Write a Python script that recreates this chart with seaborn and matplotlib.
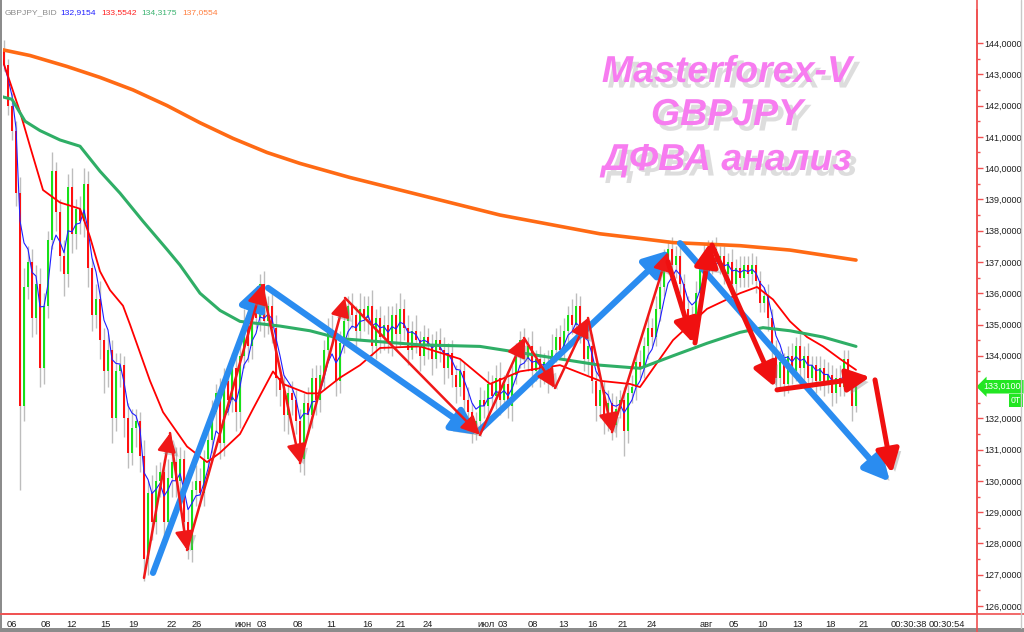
import numpy as np
import pandas as pd
import matplotlib
matplotlib.use("Agg")
import matplotlib.pyplot as plt
import matplotlib.patheffects as pe
import matplotlib.transforms as mtransforms
from matplotlib.lines import Line2D
from matplotlib.patches import Rectangle
import seaborn as sns

# -- Candles (one value per bar) -----------------------------------------------
first_open = 143.8
closes = [
    143.3, 142.0, 141.2, 139.2, 132.4, 136.2, 137.0, 135.2, 136.3, 133.6,
    135.6, 137.7, 139.9, 138.6, 137.2, 136.6, 139.4, 137.9, 138.7, 138.3,
    139.5, 136.8, 135.3, 135.8, 134.5, 133.5, 134.2, 132.0, 133.5, 133.7,
    132.0, 130.9, 131.7, 131.9, 130.8, 127.5, 129.6, 128.7, 130.0, 130.3,
    128.7, 130.1, 130.6, 130.0, 130.7, 128.7, 127.8, 129.7, 130.0, 129.6,
    130.7, 131.3, 132.2, 132.8, 131.2, 133.2, 132.6, 133.6, 132.2, 134.0,
    135.1, 134.3, 135.6, 135.2, 136.3, 135.1, 135.6, 134.9, 133.3, 132.9,
    132.1, 132.8, 132.6, 131.9, 130.7, 132.5, 132.1, 133.3, 132.6, 133.4,
    134.2, 134.8, 134.6, 133.2, 134.4, 135.1, 135.6, 135.3, 134.8, 135.5,
    135.2, 135.6, 134.3, 135.2, 134.6, 135.0, 134.4, 135.3, 134.7, 135.5,
    134.9, 134.2, 134.8, 134.5, 134.0, 134.6, 134.3, 133.9, 134.5, 134.2,
    133.6, 134.1, 133.4, 133.0, 133.5, 132.6, 132.2, 131.7, 131.9, 132.6,
    132.4, 133.1, 132.7, 133.3, 132.6, 133.1, 132.4, 133.4, 134.0, 134.5,
    133.9, 134.3, 133.5, 133.9, 133.4, 133.8, 133.3, 134.2, 134.6, 134.2,
    134.8, 135.3, 135.0, 135.6, 134.7, 133.9, 134.3, 133.2, 132.4, 132.9,
    132.0, 132.5, 131.8, 132.3, 132.6, 131.6, 132.8, 133.0, 133.8, 133.6,
    134.3, 134.9, 134.6, 135.5, 136.2, 137.0, 137.4, 136.9, 137.2, 136.3,
    135.5, 134.9, 135.3, 136.0, 136.8, 137.3, 136.9, 137.4, 137.0, 137.2,
    136.6, 137.0, 136.3, 136.8, 136.5, 136.9, 136.6, 136.9, 136.4, 135.7,
    135.9, 135.2, 134.2, 133.3, 133.8, 133.1, 134.0, 133.5, 134.3, 133.6,
    134.0, 133.3, 133.7, 133.2, 133.6, 133.1, 133.4, 132.8, 133.3, 133.0,
    133.9, 133.2, 132.4, 133.01,
]
wick_up = [
    0.3, 0.2, 0.4, 0.3, 0.5, 0.6, 0.5, 0.4, 0.6, 0.5,
    0.4, 0.3, 0.6, 0.3, 0.4, 0.5, 0.4, 0.6, 0.3, 0.4,
    0.5, 0.4, 0.3, 0.5, 0.6, 0.4, 0.5, 0.3, 0.6, 0.4,
    0.3, 0.5, 0.6, 0.4, 0.3, 0.5, 0.4, 0.6, 0.5, 0.3,
    0.4, 0.6, 0.3, 0.5, 0.4, 0.3, 0.4, 0.3, 0.5, 0.4,
    0.3, 0.5, 0.4, 0.3, 0.5, 0.4, 0.3, 0.5, 0.4, 0.3,
    0.4, 0.3, 0.3, 0.5, 0.3, 0.4, 0.3, 0.5, 0.4, 0.3,
    0.5, 0.3, 0.4, 0.3, 0.4, 0.3, 0.5, 0.3, 0.4, 0.3,
    0.3, 0.4, 0.5, 0.3, 0.4, 0.5, 0.3, 0.4, 0.3, 0.5,
    0.4, 0.3, 0.5, 0.3, 0.4, 0.3, 0.6, 0.3, 0.4, 0.5,
    0.3, 0.4, 0.3, 0.5, 0.3, 0.4, 0.3, 0.4, 0.3, 0.4,
    0.4, 0.3, 0.4, 0.3, 0.4, 0.3, 0.4, 0.3, 0.3, 0.4,
    0.3, 0.4, 0.3, 0.4, 0.5, 0.3, 0.4, 0.3, 0.4, 0.3,
    0.4, 0.3, 0.5, 0.3, 0.4, 0.3, 0.4, 0.5, 0.3, 0.4,
    0.4, 0.3, 0.5, 0.4, 0.3, 0.4, 0.3, 0.4, 0.3, 0.4,
    0.3, 0.4, 0.3, 0.4, 0.3, 0.4, 0.3, 0.4, 0.3, 0.4,
    0.3, 0.4, 0.3, 0.4, 0.3, 0.4, 0.3, 0.4, 0.3, 0.4,
    0.3, 0.4, 0.3, 0.4, 0.3, 0.3, 0.4, 0.3, 0.4, 0.3,
    0.3, 0.3, 0.4, 0.3, 0.4, 0.3, 0.3, 0.4, 0.3, 0.3,
    0.3, 0.4, 0.3, 0.3, 0.4, 0.3, 0.3, 0.4, 0.3, 0.4,
    0.3, 0.4, 0.3, 0.3, 0.4, 0.3, 0.4, 0.3, 0.3, 0.4,
    0.3, 0.3, 0.3, 0.2,
]
wick_dn = [
    0.2, 0.3, 0.3, 0.4, 2.7, 0.5, 0.4, 0.6, 0.5, 0.6,
    0.5, 0.4, 0.3, 0.6, 0.5, 0.7, 0.4, 0.6, 0.5, 0.4,
    0.5, 0.6, 0.5, 0.4, 0.6, 0.7, 0.5, 0.8, 0.4, 0.5,
    0.6, 0.5, 0.4, 0.6, 0.5, 0.7, 0.5, 0.6, 0.4, 0.5,
    0.5, 0.4, 0.6, 0.5, 0.4, 0.5, 0.3, 0.4, 0.5, 0.4,
    0.4, 0.5, 0.4, 0.6, 0.5, 0.4, 0.5, 0.4, 0.6, 0.5,
    0.4, 0.5, 0.4, 0.3, 0.4, 0.5, 0.4, 0.5, 0.6, 0.5,
    0.5, 0.6, 0.5, 0.4, 0.4, 0.5, 0.6, 0.4, 0.5, 0.4,
    0.5, 0.4, 0.3, 0.5, 0.4, 0.3, 0.5, 0.4, 0.5, 0.3,
    0.4, 0.5, 0.3, 0.4, 0.5, 0.4, 0.3, 0.4, 0.5, 0.4,
    0.4, 0.5, 0.3, 0.4, 0.5, 0.3, 0.4, 0.5, 0.3, 0.4,
    0.5, 0.3, 0.4, 0.5, 0.3, 0.4, 0.5, 0.5, 0.4, 0.3,
    0.4, 0.5, 0.3, 0.4, 0.5, 0.3, 0.4, 0.5, 0.3, 0.4,
    0.3, 0.4, 0.5, 0.3, 0.4, 0.3, 0.5, 0.3, 0.4, 0.3,
    0.3, 0.4, 0.3, 0.4, 0.3, 0.4, 0.5, 0.4, 0.5, 0.4,
    0.5, 0.4, 0.5, 0.4, 0.3, 0.8, 0.4, 0.3, 0.4, 0.3,
    0.3, 0.4, 0.3, 0.3, 0.4, 0.3, 0.4, 0.3, 0.4, 0.3,
    0.4, 0.3, 0.4, 0.3, 0.4, 0.3, 0.4, 0.3, 0.3, 0.4,
    0.3, 0.4, 0.3, 0.4, 0.3, 0.3, 0.4, 0.3, 0.4, 0.3,
    0.3, 0.4, 0.3, 0.4, 0.3, 0.4, 0.3, 0.4, 0.3, 0.3,
    0.4, 0.3, 0.3, 0.4, 0.3, 0.4, 0.3, 0.4, 0.3, 0.3,
    0.3, 0.3, 0.5, 0.2,
]

# -- Moving averages (bar index, price) ----------------------------------------
red_ma_x = [-1, 4, 6.5, 9.75, 14, 19, 21.5, 24, 26.5, 29.75, 31.5, 36.5, 39.75,
            45.75, 50.75, 54, 59, 62.25, 67.25, 69.75, 75.75, 79, 84, 89, 94,
            104, 114, 121.5, 129, 139, 149, 156.5, 159, 167.25, 175.75, 184,
            188.25, 192.25, 196.5, 200.75, 204.75, 209, 213]
red_ma_y = [143.7, 141.8, 140.7, 139.3, 138.9, 138.7, 137.8, 136.7, 136.1, 135.6,
            135.0, 133.2, 132.2, 131.1, 130.6, 130.9, 131.5, 132.3, 133.5, 133.1,
            132.8, 132.8, 133.3, 133.7, 134.25, 134.3, 133.9, 133.1, 133.5, 133.7,
            133.2, 133.1, 133.0, 134.5, 135.5, 136.0, 136.2, 135.8, 135.1, 134.6,
            134.3, 133.9, 133.55]
green_ma_x = [-1, 2, 5.25, 9, 14, 19, 24, 29, 34.75, 40.75, 44, 49, 54, 59, 69,
              76.5, 84, 94, 104, 119, 134, 149, 159, 167.25, 175.75, 184, 189.75,
              196.5, 204.75, 213]
green_ma_y = [142.3, 142.2, 141.5, 141.2, 140.9, 140.7, 139.9, 139.2, 138.3, 137.4,
              136.9, 136.0, 135.45, 135.1, 134.95, 134.8, 134.55, 134.45, 134.35,
              134.3, 134.0, 133.7, 133.6, 134.0, 134.4, 134.75, 134.9, 134.8,
              134.6, 134.3]
orange_ma_x = [-1, 6.5, 15.75, 24, 32.25, 40.75, 49, 57.25, 65.75, 74, 86.5, 99,
               111.5, 124, 136.5, 149, 159, 167.25, 184, 196.5, 213]
orange_ma_y = [143.8, 143.6, 143.25, 142.9, 142.5, 142.0, 141.45, 140.95, 140.5,
               140.15, 139.7, 139.3, 138.9, 138.5, 138.2, 137.9, 137.75, 137.62,
               137.52, 137.38, 137.06]

# -- Wave markup (bar index, price) ---------------------------------------------
blue_waves = [((37.25, 127.06), (64.5, 136.36)),
              ((66.0, 136.17), (118.5, 131.47)),
              ((119.0, 131.63), (166.5, 137.38)),
              ((169.0, 137.6), (221.5, 129.97))]
red_zigzag = [(35, 126.90), (41.5, 131.53), (45.75, 127.79), (64.5, 136.26),
              (74, 130.57), (85.25, 135.85), (119, 131.47), (130, 134.57),
              (137.75, 132.97), (146, 135.21), (152, 131.56), (166, 137.32)]
red_thick = [((166.0, 137.0), (172.25, 134.41)),
             ((172.75, 134.41), (176.5, 137.61)),
             ((177.0, 137.54), (192.75, 133.0)),
             ((193.25, 132.91), (216.5, 133.32)),
             ((217.75, 133.23), (222.0, 130.25))]

# -- Axis labels ---------------------------------------------------------------
date_ticks = [0.75, 9.25, 15.5, 24, 31, 40.75, 47, 57.5, 63.25, 72.25, 80.5, 89.5,
              98, 104.75, 118.25, 123.5, 131, 138.5, 145.75, 153.5, 160.75, 174,
              181.25, 188.25, 197, 205.25, 213.75, 221.75, 231.25]
date_labels = ["06", "08", "12", "15", "19", "22", "26", "июн", "03", "08", "11",
               "16", "21", "24", "июл", "03", "08", "13", "16", "21", "24", "авг",
               "05", "10", "13", "18", "21", "00:30:38", "00:30:54"]
price_ticks = list(range(126, 145))
legend_vals = ["132,9154", "133,5542", "134,3175", "137,0554"]
last_price = 133.01

# -- Figure --------------------------------------------------------------------
sns.set_theme(style="white")
plt.rcParams["font.family"] = ["Liberation Sans", "DejaVu Sans"]

W, H = 1024, 632
fig = plt.figure(figsize=(W / 100, H / 100), dpi=100)
fig.patch.set_facecolor("white")
ax = fig.add_axes([3 / W, 18 / H, 974 / W, 604 / H])
ax.set_facecolor("white")

idx = np.arange(len(closes))
c = np.array(closes)
o = np.array([first_open] + closes[:-1])
top = np.maximum(o, c)
bot = np.minimum(o, c)
highs = top + np.array(wick_up)
lows = bot - np.array(wick_dn)
body_col = np.where(c >= o, "#18e018", "#ff1010")

ax.vlines(idx, lows, highs, color="#bdbdbd", lw=1, zorder=1)
ax.bar(idx, np.maximum(top - bot, 0.06), bottom=bot, width=0.72,
       color=body_col, linewidth=0, zorder=2)

blue_ma = pd.Series(closes).ewm(span=5, adjust=False).mean()
sns.lineplot(x=idx, y=blue_ma.values, ax=ax, color="#1f1fff", lw=0.8, zorder=3)
sns.lineplot(x=red_ma_x, y=red_ma_y, ax=ax, color="#ff0000", lw=1.3, zorder=3)
sns.lineplot(x=green_ma_x, y=green_ma_y, ax=ax, color="#2fae66", lw=2.2, zorder=3)
sns.lineplot(x=orange_ma_x, y=orange_ma_y, ax=ax, color="#ff6a14", lw=2.6, zorder=3)

shadow = [pe.withSimplePatchShadow(offset=(3, -3), shadow_rgbFace="#8a8a8a", alpha=0.4)]

def arrow(p0, p1, color, lw, ms):
    ax.annotate("", xy=p1, xytext=p0, zorder=5,
                arrowprops=dict(arrowstyle="-|>,head_length=0.7,head_width=0.35",
                                color=color, lw=lw, mutation_scale=ms,
                                shrinkA=0, shrinkB=0, path_effects=shadow))

for p0, p1 in blue_waves:
    arrow(p0, p1, "#2a8cf0", 4.5, 22)
for p0, p1 in zip(red_zigzag[:-1], red_zigzag[1:]):
    arrow(p0, p1, "#f01818", 1.8, 16)
for p0, p1 in red_thick:
    arrow(p0, p1, "#f01010", 3.6, 20)

ax.set_xlim(-0.25, 243.25)
ax.set_ylim(125.745, 145.055)

# axes styling
for s in ["top", "left"]:
    ax.spines[s].set_visible(False)
for s in ["right", "bottom"]:
    ax.spines[s].set_color("#f05050")
    ax.spines[s].set_linewidth(1.2)
ax.yaxis.tick_right()
ax.set_yticks(price_ticks)
ax.set_yticklabels([f"{v},0000" for v in price_ticks])
ax.set_yticks(np.array(price_ticks[:-1]) + 0.5, minor=True)
ax.tick_params(axis="y", which="major", direction="out", length=4, width=1,
               color="#f05050", labelsize=6.5, labelcolor="#202020", pad=1)
ax.tick_params(axis="y", which="minor", direction="out", length=2, width=1,
               color="#f05050", right=True)
ax.set_xticks(date_ticks)
ax.set_xticklabels(date_labels)
ax.tick_params(axis="x", direction="out", length=3, width=1, color="#f05050",
               labelsize=6.7, labelcolor="#202020", pad=1.5)
for t in ax.get_xticklabels():
    t.set_horizontalalignment("left")
ax.set_xlabel("")
ax.set_ylabel("")

# full-width axis lines
fig.add_artist(Line2D([0, 1], [18 / H, 18 / H], transform=fig.transFigure,
                      color="#f05050", lw=1.2))
fig.add_artist(Line2D([977 / W, 977 / W], [0, 1], transform=fig.transFigure,
                      color="#f05050", lw=1.2))
# window frame
fig.add_artist(Rectangle((0, 0), 2 / W, 1, transform=fig.transFigure,
                         color="#8c8c8c", lw=0))
fig.add_artist(Rectangle((0, 0), 1, 4 / H, transform=fig.transFigure,
                         color="#8c8c8c", lw=0))
fig.add_artist(Line2D([1021 / W, 1021 / W], [4 / H, 1], transform=fig.transFigure,
                      color="#c8c8c8", lw=1))

# last price tag
tr = mtransforms.blended_transform_factory(ax.transAxes, ax.transData)
ax.text(1.007, last_price, "133,0100", transform=tr, ha="left", va="center",
        fontsize=6.5, color="white", clip_on=False,
        bbox=dict(boxstyle="larrow,pad=0.25", fc="#22e622", ec="none"))
ax.text(1.0455, last_price - 0.45, "0T", transform=tr, ha="right", va="center",
        fontsize=6.3, color="white", clip_on=False,
        bbox=dict(boxstyle="square,pad=0.22", fc="#22e622", ec="none"))

# legend line
fig.text(5 / W, 1 - 13 / H, "GBPJPY_BID", fontsize=6.1, color="#8a8a8a", va="center")
for xpx, val, col in zip([60, 101, 141, 182], legend_vals,
                         ["#2020ff", "#ff2020", "#3cb371", "#ff7f3f"]):
    fig.text(xpx / W, 1 - 13 / H, val, fontsize=6.1, color=col, va="center")

# title
title_fx = [pe.withSimplePatchShadow(offset=(4, -4), shadow_rgbFace="#a0a0a0", alpha=0.35)]
for txt, ypx in zip(["Masterforex-V", "GBPJPY", "ДФВА анализ"], [72, 115, 160]):
    fig.text(727 / W, 1 - ypx / H, txt, fontsize=27, fontweight="bold",
             fontstyle="italic", color="#f77cf0", ha="center", va="center",
             path_effects=title_fx)

fig.savefig("out.png", dpi=100, facecolor="white")
